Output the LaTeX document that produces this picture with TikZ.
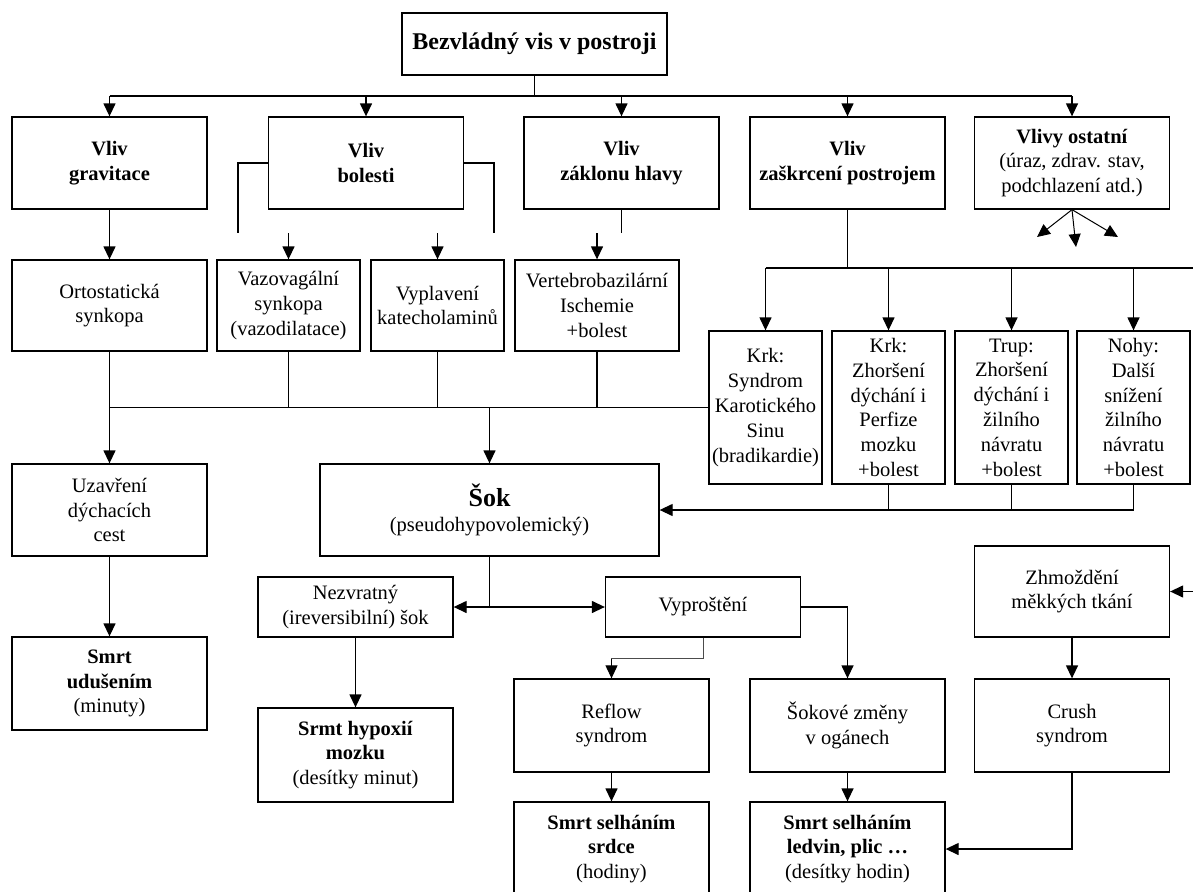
\documentclass[tikz,border=0pt]{standalone}
\usepackage{fontspec}
\setmainfont{Liberation Serif}
\usetikzlibrary{arrows.meta}

\begin{document}
\begin{tikzpicture}[x=1pt, y=-1pt, >={Triangle[length=13pt,width=12pt]},
        line width=1.3pt,
        font=\fontsize{20.5}{24.8}\selectfont,
        blok/.style={draw, align=center, inner sep=1pt, line width=1.3pt},
        wblok/.style={blok, minimum width=195pt, minimum height=92pt},
        lblok/.style={blok, minimum width=195pt, minimum height=60pt},
        kblok/.style={blok, minimum width=113pt, minimum height=153pt},
        sblok/.style={blok, minimum height=91pt}]
        \useasboundingbox (0,0) rectangle (1193,891);
        \fill[white] (0,0) rectangle (1193,891);
        \clip (0,0) rectangle (1193,891);
        % ---- hlavni uzel ----
        \node[blok, minimum width=265pt, minimum height=62pt] (vis) at (534.5,44)
          {\fontsize{24}{28}\selectfont\textbf{Bezvládný vis v postroji}};
        % ---- vlivy ----
        \node[wblok] (grav) at (109.5,163)  {\textbf{Vliv}\\\textbf{gravitace}};
        \node[wblok] (bol)  at (366,163)    {\textbf{Vliv}\\\textbf{bolesti}};
        \node[wblok] (zakl) at (621.5,163)  {\textbf{Vliv}\\\textbf{záklonu hlavy}};
        \node[wblok] (zask) at (847.5,163)  {\textbf{Vliv}\\\textbf{zaškrcení postrojem}};
        \node[wblok] (ost)  at (1072,163)   {\textbf{Vlivy ostatní}\\(úraz, zdrav. stav,\\podchlazení atd.)};
        % ---- druha rada ----
        \node[sblok, minimum width=195pt] (orto) at (109.5,305.5) {Ortostatická\\synkopa};
        \node[sblok, minimum width=143pt] (vazo) at (288.5,305.5) {Vazovagální\\synkopa\\(vazodilatace)};
        \node[sblok, minimum width=133pt] (vyp)  at (437.5,305.5) {Vyplavení\\katecholaminů};
        \node[sblok, minimum width=164pt] (vert) at (597,305.5)   {Vertebrobazilární\\Ischemie\\+bolest};
        % ---- zaskrceni ----
        \node[kblok] (krk1) at (765.5,407.5)  {Krk:\\Syndrom\\Karotického\\Sinu\\(bradikardie)};
        \node[kblok] (krk2) at (888.5,407.5)  {Krk:\\Zhoršení\\dýchání i\\Perfize\\mozku\\+bolest};
        \node[kblok] (krk3) at (1011.5,407.5) {Trup:\\Zhoršení\\dýchání i\\žilního\\návratu\\+bolest};
        \node[kblok] (krk4) at (1133.5,407.5) {Nohy:\\Další\\snížení\\žilního\\návratu\\+bolest};
        % ---- sok a dusení ----
        \node[wblok] (uzav) at (109.5,510) {Uzavření\\dýchacích\\cest};
        \node[blok, minimum width=339pt, minimum height=92pt] (sok) at (489.5,510)
          {{\fontsize{26}{28}\selectfont\textbf{Šok}}\\(pseudohypovolemický)};
        \node[wblok, minimum height=93pt] (udus) at (109.5,683.5) {\textbf{Smrt}\\\textbf{udušením}\\(minuty)};
        \node[lblok] (nezv) at (355.5,607) {Nezvratný\\(ireversibilní) šok};
        \node[lblok] (vypr) at (703,607)   {Vyproštění};
        \node[wblok, minimum height=91pt] (zhmo) at (1072,591.5) {Zhmoždění\\měkkých tkání};
        \node[wblok, minimum height=94pt] (hypox) at (355.5,755) {\textbf{Srmt hypoxií}\\\textbf{mozku}\\(desítky minut)};
        \node[wblok, minimum height=93pt] (reflow) at (611.5,725.5) {Reflow\\syndrom};
        \node[wblok, minimum height=93pt] (sokz)   at (847.5,725.5) {Šokové změny\\v ogánech};
        \node[wblok, minimum height=93pt] (crush)  at (1072,725.5)  {Crush\\syndrom};
        \node[wblok, minimum height=94pt] (srdce) at (611.5,849) {\textbf{Smrt selháním}\\\textbf{srdce}\\(hodiny)};
        \node[wblok, minimum height=94pt] (ledv)  at (847.5,849) {\textbf{Smrt selháním}\\\textbf{ledvin, plic …}\\(desítky hodin)};
        % ---- rozvod z hlavniho uzlu ----
        \coordinate (bus1) at (535,96);
        \draw (vis.south) -- (vis.south |- bus1);
        \draw (grav.north |- bus1) -- (ost.north |- bus1);
        \foreach \b in {grav,bol,zakl,zask,ost}
          \draw[->] (\b.north |- bus1) -- (\b.north);
        % ---- bolest a zaklon ----
        \coordinate (bolL) at (238,233);
        \coordinate (bolR) at (494,233);
        \draw (bol.west) -| (bolL);
        \draw (bol.east) -| (bolR);
        \coordinate (vazoin) at (vazo.north |- bolL);
        \coordinate (vypin) at (vyp.north |- bolL);
        \coordinate (vertin) at (vert.north |- bolL);
        \coordinate (zaklend) at (zakl.south |- bolL);
        \draw[->] (vazoin) -- (vazo.north);
        \draw[->] (vypin) -- (vyp.north);
        \draw (zakl.south) -- (zaklend);
        \draw[->] (vertin) -- (vert.north);
        \draw[->] (grav.south) -- (orto.north);
        % ---- sber do soku ----
        \foreach \b in {orto,vazo,vyp,vert}
          \draw (\b.south) -- (\b.south |- krk1.west);
        \draw (orto.south |- krk1.west) -- (krk1.west);
        \draw[->] (orto.south |- krk1.west) -- (uzav.north);
        \draw[->] (sok.north |- krk1.west) -- (sok.north);
        % ---- zaskrceni postrojem ----
        \coordinate (edgeR) at (1193,268);
        \draw (zask.south) -- (zask.south |- edgeR);
        \draw (krk1.north |- edgeR) -- (edgeR);
        \foreach \b in {krk1,krk2,krk3,krk4}
          \draw[->] (\b.north |- edgeR) -- (\b.north);
        \draw[->] (krk4.south) |- (sok.east);
        \foreach \b in {krk2,krk3}
          \draw (\b.south) -- (\b.south |- sok.east);
        % ---- ostatni vlivy ----
        \coordinate (ost1) at (1037,237);
        \coordinate (ost2) at (1076,247);
        \coordinate (ost3) at (1118,237);
        \foreach \c in {ost1,ost2,ost3}
          \draw[->, line width=1pt] (ost.south) -- (\c);
        % ---- dalsi prubeh ----
        \coordinate (split) at (sok.south |- nezv.east);
        \draw (sok.south) -- (split);
        \draw[->] (split) -- (nezv.east);
        \draw[->] (split) -- (vypr.west);
        \draw[->] (uzav.south) -- (udus.north);
        \draw[->] (nezv.south) -- (hypox.north);
        \path (vypr.south) -- ++(0,21) coordinate (vyprbend);
        \draw[black!70, line width=1pt] (vypr.south) -- (vyprbend) -| (reflow.north);
        \draw[->, line width=1pt] (reflow.north |- vyprbend) -- (reflow.north);
        \draw[->] (vypr.east) -| (sokz.north);
        \draw[->] (reflow.south) -- (srdce.north);
        \draw[->] (sokz.south) -- (ledv.north);
        \coordinate (edgeZ) at (1193,591.5);
        \draw[->] (edgeZ) -- (zhmo.east);
        \draw[->] (zhmo.south) -- (crush.north);
        \draw[->] (crush.south) |- (ledv.east);
\end{tikzpicture}
\end{document}
